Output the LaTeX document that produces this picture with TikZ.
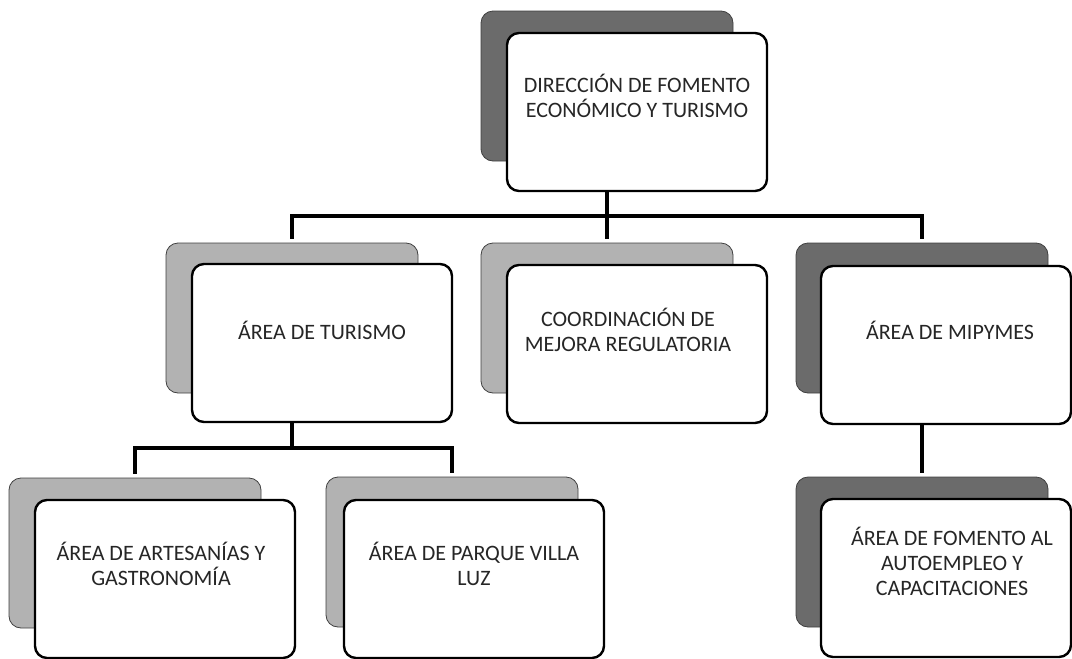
\documentclass[tikz,border=0pt]{standalone}
\usepackage{fontspec}
\setmainfont{Carlito}
\usetikzlibrary{calc}
\begin{document}
\begin{tikzpicture}[x=1pt, y=-1pt,
  backbox/.style={draw=black!75, line width=.8pt, rounded corners=12pt, minimum width=252pt, minimum height=150pt},
  backdark/.style={backbox, fill=black!58},
  backlight/.style={backbox, fill=black!30},
  frontbox/.style={draw, fill=white, line width=2.4pt, rounded corners=12pt, minimum width=260pt, minimum height=158pt},
  txt/.style={align=center, text=black!85, font=\fontsize{22}{25}\selectfont},
  conn/.style={line width=3.5pt, shorten >=4pt}]
  \useasboundingbox (0,0) rectangle (1072,659);
  % back shapes
  \node[backdark] (dirB) at (607,86) {};
  \node[backlight] (turB) at (292,318) {};
  \node[backlight] (coordB) at (607,318) {};
  \node[backdark] (mipB) at (922,318) {};
  \node[backlight] (artB) at (135,553) {};
  \node[backlight] (parB) at (452,552) {};
  \node[backdark] (autB) at (922,552) {};
  % front shapes
  \node[frontbox] (dir) at (637,112) {};
  \node[frontbox] (tur) at (322,343) {};
  \node[frontbox] (coord) at (637,344) {};
  \node[frontbox, minimum width=250pt] (mip) at (946,345) {};
  \node[frontbox] (art) at (165,579) {};
  \node[frontbox] (par) at (474,579) {};
  \node[frontbox, minimum width=250pt] (aut) at (946,578) {};
  % texts
  \node[txt] (dirT) at ([yshift=16pt]dir.center) {DIRECCIÓN DE FOMENTO\\ECONÓMICO Y TURISMO};
  \node[txt] (turT) at ([yshift=13pt]tur.center) {ÁREA DE TURISMO};
  \node[txt] (coordT) at ([xshift=-9pt,yshift=14pt]coord.center) {COORDINACIÓN DE\\MEJORA REGULATORIA};
  \node[txt] (mipT) at ([xshift=4pt,yshift=15pt]mip.center) {ÁREA DE MIPYMES};
  \node[txt] (artT) at ([xshift=-4pt,yshift=15pt]art.center) {ÁREA DE ARTESANÍAS Y\\GASTRONOMÍA};
  \node[txt] (parT) at ([yshift=15pt]par.center) {ÁREA DE PARQUE VILLA\\LUZ};
  \node[txt] (autT) at ([xshift=6pt,yshift=17pt]aut.center) {ÁREA DE FOMENTO AL\\AUTOEMPLEO Y\\CAPACITACIONES};
  % connectors
  \coordinate (j1) at ($(dirB.south |- dir.south)+(0,24)$);
  \coordinate (j2) at ($(turB.south |- tur.south)+(0,25)$);
  \draw[conn, shorten >=0pt] (dirB.south |- dir.south) -- (j1);
  \draw[conn] (j1) -| (turB.north);
  \draw[conn] (j1) -- (coordB.north);
  \draw[conn] (j1) -| (mipB.north);
  \draw[conn, shorten >=0pt] (turB.south |- tur.south) -- (j2);
  \draw[conn] (j2) -| (artB.north);
  \draw[conn] (j2) -| (parB.north);
  \draw[conn] (mipB.south |- mip.south) -- (autB.north);
\end{tikzpicture}
\end{document}
